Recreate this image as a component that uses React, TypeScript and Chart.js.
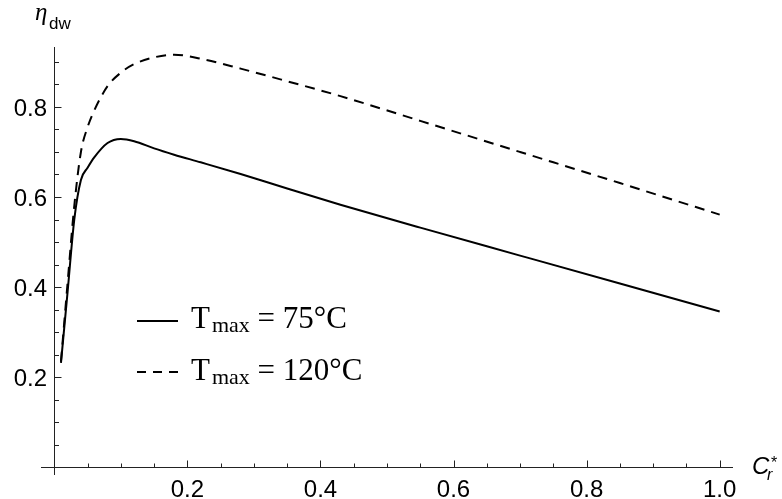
import { useEffect, useRef } from "react";
import { Chart, registerables } from "chart.js";

Chart.register(...registerables);

// C_r* values (x axis)
const crValues = [0.01, 0.02, 0.03, 0.04, 0.05, 0.06, 0.08, 0.1, 0.12, 0.15, 0.18, 0.22, 0.28, 0.35, 0.43, 0.55, 0.7, 0.85, 1.0];
// eta_dw for T_max = 75°C (solid)
const eta75 = [0.232, 0.39, 0.55, 0.638, 0.665, 0.688, 0.72, 0.729, 0.724, 0.708, 0.694, 0.677, 0.651, 0.619, 0.583, 0.532, 0.47, 0.408, 0.346];
// eta_dw for T_max = 120°C (dashed)
const eta120 = [0.235, 0.41, 0.58, 0.7, 0.755, 0.792, 0.846, 0.876, 0.895, 0.91, 0.916, 0.907, 0.885, 0.857, 0.824, 0.769, 0.7, 0.631, 0.561];

const xTickValues = [0.2, 0.4, 0.6, 0.8, 1.0];
const xTickLabels = ["0.2", "0.4", "0.6", "0.8", "1.0"];
const yTickValues = [0.2, 0.4, 0.6, 0.8];
const yTickLabels = ["0.2", "0.4", "0.6", "0.8"];
const legendTemps = ["75°C", "120°C"];

const axesPlugin = {
  id: "mmaAxes",
  beforeDatasetsDraw(chart: any) {
    const ctx = chart.ctx as CanvasRenderingContext2D;
    const xs = chart.scales.x;
    const ys = chart.scales.y;
    const x0 = Math.round(xs.getPixelForValue(0)) + 0.5;
    const y0 = Math.round(ys.getPixelForValue(0)) + 0.5;
    ctx.save();
    ctx.strokeStyle = "#222";
    ctx.lineWidth = 1;
    ctx.beginPath();
    ctx.moveTo(xs.left, y0);
    ctx.lineTo(xs.right, y0);
    ctx.moveTo(x0, ys.top);
    ctx.lineTo(x0, ys.bottom);
    for (let i = 1; i <= 20; i++) {
      const px = Math.round(xs.getPixelForValue(i * 0.05)) + 0.5;
      const len = i % 4 === 0 ? 7 : 4;
      ctx.moveTo(px, y0);
      ctx.lineTo(px, y0 - len);
    }
    for (let i = 1; i <= 18; i++) {
      const py = Math.round(ys.getPixelForValue(i * 0.05)) + 0.5;
      const len = i % 4 === 0 ? 7 : 4.5;
      ctx.moveTo(x0, py);
      ctx.lineTo(x0 + len, py);
    }
    ctx.stroke();

    ctx.fillStyle = "#000";
    ctx.font = "24px 'Liberation Sans', Arial, sans-serif";
    ctx.textBaseline = "alphabetic";
    ctx.textAlign = "center";
    xTickValues.forEach((v, i) => {
      ctx.fillText(xTickLabels[i], xs.getPixelForValue(v), y0 + 29);
    });
    ctx.textAlign = "right";
    yTickValues.forEach((v, i) => {
      ctx.fillText(yTickLabels[i], x0 - 7.5, ys.getPixelForValue(v) + 9);
    });

    // y axis title: eta_dw
    ctx.textAlign = "left";
    ctx.font = "italic 25px 'Liberation Serif', 'Times New Roman', serif";
    ctx.fillText("η", 35, 20);
    ctx.font = "17px 'Liberation Sans', Arial, sans-serif";
    ctx.fillText("dw", 49, 29);

    // x axis title: C_r^*
    ctx.font = "italic 24px 'Liberation Sans', Arial, sans-serif";
    ctx.fillText("C", 752, 474);
    ctx.font = "italic 16px 'Liberation Sans', Arial, sans-serif";
    ctx.fillText("r", 767, 480);
    ctx.font = "16px 'Liberation Sans', Arial, sans-serif";
    ctx.fillText("*", 771, 468);
    ctx.restore();
  },
  afterDraw(chart: any) {
    const ctx = chart.ctx as CanvasRenderingContext2D;
    ctx.save();
    ctx.strokeStyle = "#000";
    ctx.fillStyle = "#000";
    ctx.lineWidth = 2;
    const rows = [
      { lineY: 321, base: 328, dash: [] as number[] },
      { lineY: 372, base: 380, dash: [9, 7] },
    ];
    rows.forEach((r, i) => {
      ctx.setLineDash(r.dash);
      ctx.beginPath();
      ctx.moveTo(137, r.lineY);
      ctx.lineTo(178, r.lineY);
      ctx.stroke();
      ctx.setLineDash([]);
      ctx.textAlign = "left";
      ctx.textBaseline = "alphabetic";
      let x = 191;
      ctx.font = "31px 'Liberation Serif', 'Times New Roman', serif";
      ctx.fillText("T", x, r.base);
      x += ctx.measureText("T").width + 2;
      ctx.font = "22px 'Liberation Serif', 'Times New Roman', serif";
      ctx.fillText("max", x, r.base + 4);
      x += ctx.measureText("max").width;
      ctx.font = "31px 'Liberation Serif', 'Times New Roman', serif";
      ctx.fillText(" = " + legendTemps[i], x, r.base);
    });
    ctx.restore();
  },
};

export default function App() {
  const ref = useRef<HTMLCanvasElement | null>(null);
  useEffect(() => {
    if (!ref.current) return;
    const chart = new Chart(ref.current, {
      type: "line",
      data: {
        datasets: [
          {
            label: "Tmax = 75°C",
            data: crValues.map((x, i) => ({ x, y: eta75[i] })),
            borderColor: "#000",
            borderWidth: 2,
            pointRadius: 0,
            cubicInterpolationMode: "monotone",
            fill: false,
          },
          {
            label: "Tmax = 120°C",
            data: crValues.map((x, i) => ({ x, y: eta120[i] })),
            borderColor: "#000",
            borderWidth: 2,
            borderDash: [10, 7],
            pointRadius: 0,
            cubicInterpolationMode: "monotone",
            fill: false,
          },
        ],
      },
      options: {
        animation: false,
        responsive: false,
        devicePixelRatio: 1,
        layout: { padding: { left: 41, right: 49, top: 47, bottom: 24 } },
        plugins: { legend: { display: false }, tooltip: { enabled: false } },
        scales: {
          x: { type: "linear", min: -0.02, max: 1.02, display: false },
          y: { type: "linear", min: -0.017, max: 0.933, display: false },
        },
      },
      plugins: [axesPlugin],
    });
    return () => chart.destroy();
  }, []);
  return (
    <div style={{ position: "fixed", left: 0, top: 0, width: 782, height: 499, background: "#fff" }}>
      <canvas ref={ref} width={782} height={499} />
    </div>
  );
}
